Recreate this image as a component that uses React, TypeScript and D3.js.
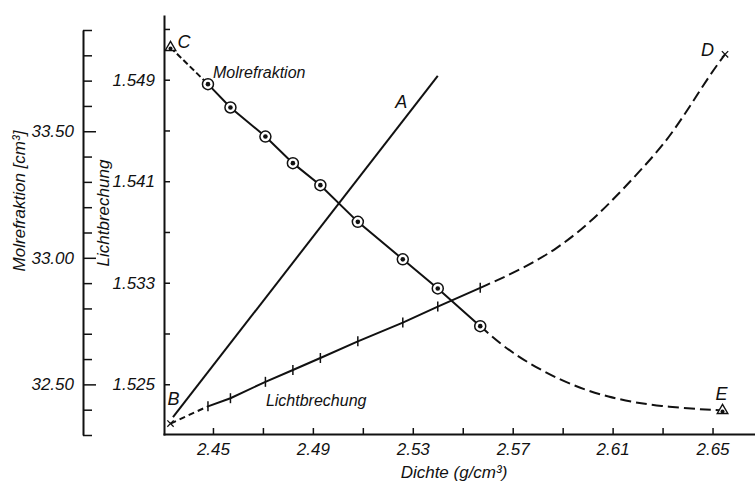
import { useRef, useEffect } from "react";
import * as d3 from "d3";

// measured points: density, molar refraction, refractive index
const dichte = [2.448, 2.457, 2.471, 2.482, 2.493, 2.508, 2.526, 2.54, 2.557];
const molrefraktion = [33.686, 33.594, 33.479, 33.374, 33.287, 33.142, 32.994, 32.879, 32.73];
const lichtbrechung = [1.52326, 1.5239, 1.52519, 1.52612, 1.52707, 1.52838, 1.52986, 1.53112, 1.5326];

// dashed branch of Molrefraktion towards E
const molExtraDichte = [2.557, 2.569, 2.589, 2.608, 2.629, 2.654];
const molExtraWerte = [32.73, 32.625, 32.513, 32.447, 32.411, 32.397];

// dashed branch of Lichtbrechung towards D
const lbExtraDichte = [2.557, 2.573, 2.588, 2.6, 2.609, 2.62, 2.631, 2.64, 2.649, 2.655];
const lbExtraWerte = [1.5326, 1.534, 1.5357, 1.5376, 1.5393, 1.5416, 1.544, 1.5466, 1.5494, 1.551];

// end points
const pointC = { d: 2.433, v: 33.831 };
const pointE = { d: 2.654, v: 32.397 };
const pointB = { d: 2.433, v: 1.5219 };
const pointD = { d: 2.655, v: 1.551 };

// straight line A
const lineADichte = [2.434, 2.54];
const lineAWerte = [1.5224, 1.5493];

// ticks
const dichteTicks = [2.45, 2.47, 2.49, 2.51, 2.53, 2.55, 2.57, 2.59, 2.61, 2.63, 2.65];
const dichteLabels = [2.45, 2.49, 2.53, 2.57, 2.61, 2.65];
const lbTicks = [1.525, 1.529, 1.533, 1.537, 1.541, 1.545, 1.549, 1.553];
const lbLabels = [1.525, 1.533, 1.541, 1.549];
const molTicks = [32.3, 32.4, 32.5, 32.6, 32.7, 32.8, 32.9, 33.0, 33.1, 33.2, 33.3, 33.4, 33.5, 33.6, 33.7, 33.8, 33.9];
const molLabels = [32.5, 33.0, 33.5];

const FONT = "'Liberation Sans', Arial, sans-serif";
const INK = "#111";

export default function App() {
  const svgRef = useRef<SVGSVGElement>(null);

  useEffect(() => {
    if (!svgRef.current) return;
    const svg = d3.select(svgRef.current);
    svg.selectAll("*").remove();

    const x = d3.scaleLinear().domain([2.43, 2.667]).range([163, 755]);
    const yN = d3.scaleLinear().domain([1.521, 1.5541]).range([435, 15]);
    const yM = d3.scaleLinear().domain([32.3, 33.9]).range([435, 30]);
    const fmt = (v: number) => (Math.round(v * 1000) / 1000).toString();
    const isIn = (arr: number[], v: number) => arr.some((l) => Math.abs(l - v) < 1e-6);

    const styleText = (sel: any, size: number) =>
      sel
        .attr("fill", INK)
        .style("font-family", FONT)
        .style("font-style", "italic")
        .style("font-size", `${size}px`);

    // bottom axis
    const gx = svg
      .append("g")
      .attr("transform", "translate(0,434)")
      .call(
        d3
          .axisBottom(x)
          .tickValues(dichteTicks)
          .tickSize(-6)
          .tickSizeOuter(0)
          .tickPadding(9)
          .tickFormat((d) => (isIn(dichteLabels, +d) ? (+d).toFixed(2) : "")),
      );
    gx.select(".domain").attr("stroke", INK).attr("stroke-width", 2);
    gx.selectAll(".tick line").attr("stroke", INK).attr("stroke-width", 1.5);
    styleText(gx.selectAll("text"), 17);

    // main left axis: Lichtbrechung
    const gy = svg
      .append("g")
      .attr("transform", "translate(164,0)")
      .call(
        d3
          .axisLeft(yN)
          .tickValues(lbTicks)
          .tickSize(-6)
          .tickSizeOuter(0)
          .tickPadding(9)
          .tickFormat((d) => (isIn(lbLabels, +d) ? fmt(+d) : "")),
      );
    gy.select(".domain").attr("stroke", INK).attr("stroke-width", 2);
    gy.selectAll(".tick line").attr("stroke", INK).attr("stroke-width", 1.5);
    styleText(gy.selectAll("text"), 17);

    // secondary axis: Molrefraktion
    const gm = svg
      .append("g")
      .attr("transform", "translate(83,0)")
      .call(
        d3
          .axisLeft(yM)
          .tickValues(molTicks)
          .tickSize(-9)
          .tickSizeOuter(0)
          .tickPadding(9)
          .tickFormat((d) => (isIn(molLabels, +d) ? (+d).toFixed(2) : "")),
      );
    gm.select(".domain").attr("stroke", INK).attr("stroke-width", 2);
    gm.selectAll(".tick line")
      .attr("stroke", INK)
      .attr("stroke-width", 1.5)
      .attr("x2", (d: any) => (isIn(molLabels, d) ? 13 : 9));
    styleText(gm.selectAll("text"), 17);

    // axis titles
    styleText(svg.append("text"), 17)
      .attr("transform", "translate(25,201) rotate(-90)")
      .attr("text-anchor", "middle")
      .text("Molrefraktion [cm³]");
    styleText(svg.append("text"), 17)
      .attr("transform", "translate(109,213) rotate(-90)")
      .attr("text-anchor", "middle")
      .text("Lichtbrechung");
    styleText(svg.append("text"), 17)
      .attr("x", 454)
      .attr("y", 478)
      .attr("text-anchor", "middle")
      .text("Dichte (g/cm³)");

    const lineM = d3
      .line<[number, number]>()
      .x((d) => x(d[0]))
      .y((d) => yM(d[1]));
    const lineN = d3
      .line<[number, number]>()
      .x((d) => x(d[0]))
      .y((d) => yN(d[1]));

    const measM: [number, number][] = dichte.map((d, i) => [d, molrefraktion[i]]);
    const measN: [number, number][] = dichte.map((d, i) => [d, lichtbrechung[i]]);

    const stroke = (sel: any, dash: string | null) =>
      sel
        .attr("fill", "none")
        .attr("stroke", INK)
        .attr("stroke-width", 2)
        .attr("stroke-dasharray", dash);

    // line A
    stroke(svg.append("path"), null).attr(
      "d",
      lineN(lineADichte.map((d, i) => [d, lineAWerte[i]] as [number, number])),
    );

    // Lichtbrechung curve
    stroke(svg.append("path"), "6,4").attr("d", lineN([[pointB.d, pointB.v], measN[0]]));
    stroke(svg.append("path"), null).attr("d", lineN(measN));
    stroke(svg.append("path"), "11,5").attr(
      "d",
      lineN.curve(d3.curveBasis)(lbExtraDichte.map((d, i) => [d, lbExtraWerte[i]] as [number, number])),
    );

    svg
      .append("g")
      .selectAll("line")
      .data(measN)
      .join("line")
      .attr("x1", (d) => x(d[0]))
      .attr("x2", (d) => x(d[0]))
      .attr("y1", (d) => yN(d[1]) - 5)
      .attr("y2", (d) => yN(d[1]) + 5)
      .attr("stroke", INK)
      .attr("stroke-width", 1.5);

    // Molrefraktion curve
    stroke(svg.append("path"), "6,3").attr("d", lineM([[pointC.d, pointC.v], measM[0]]));
    stroke(svg.append("path"), null).attr("d", lineM(measM));
    stroke(svg.append("path"), "11,5").attr(
      "d",
      lineM.curve(d3.curveBasis)(molExtraDichte.map((d, i) => [d, molExtraWerte[i]] as [number, number])),
    );

    // measured circles
    const pts = svg
      .append("g")
      .selectAll("g")
      .data(measM)
      .join("g")
      .attr("transform", (d) => `translate(${x(d[0])},${yM(d[1])})`);
    pts.append("circle").attr("r", 5.5).attr("fill", "#fff").attr("stroke", INK).attr("stroke-width", 1.5);
    pts.append("circle").attr("r", 2.3).attr("fill", INK);

    // triangles C and E
    const tri = d3.symbol(d3.symbolTriangle2, 80);
    [pointC, pointE].forEach((p) => {
      const g = svg.append("g").attr("transform", `translate(${x(p.d)},${yM(p.v)})`);
      g.append("path").attr("d", tri()).attr("fill", "#fff").attr("stroke", INK).attr("stroke-width", 1.4);
      g.append("circle").attr("r", 2).attr("cy", 1).attr("fill", INK);
    });

    // crosses B and D
    const cross = d3.symbol(d3.symbolTimes, 28);
    [pointB, pointD].forEach((p) => {
      svg
        .append("path")
        .attr("transform", `translate(${x(p.d)},${yN(p.v)})`)
        .attr("d", cross())
        .attr("fill", "none")
        .attr("stroke", INK)
        .attr("stroke-width", 1.3);
    });

    // letters
    styleText(svg.append("text"), 18).attr("x", x(pointC.d) + 7).attr("y", yM(pointC.v) + 1).text("C");
    styleText(svg.append("text"), 18).attr("x", x(pointE.d) - 1).attr("y", yM(pointE.v) - 10).attr("text-anchor", "middle").text("E");
    styleText(svg.append("text"), 18).attr("x", x(pointB.d) - 3).attr("y", yN(pointB.v) - 19).text("B");
    styleText(svg.append("text"), 18).attr("x", x(pointD.d) - 11).attr("y", yN(pointD.v) + 2).attr("text-anchor", "end").text("D");
    styleText(svg.append("text"), 18).attr("x", x(2.523)).attr("y", yN(1.54677)).text("A");

    // curve labels
    styleText(svg.append("text"), 16).attr("x", x(2.45)).attr("y", yM(33.711)).text("Molrefraktion");
    styleText(svg.append("text"), 16).attr("x", x(2.4712)).attr("y", yN(1.52328)).text("Lichtbrechung");
  }, []);

  return (
    <svg
      ref={svgRef}
      width={755}
      height={486}
      style={{ position: "absolute", left: 0, top: 0, background: "#fff" }}
    />
  );
}
